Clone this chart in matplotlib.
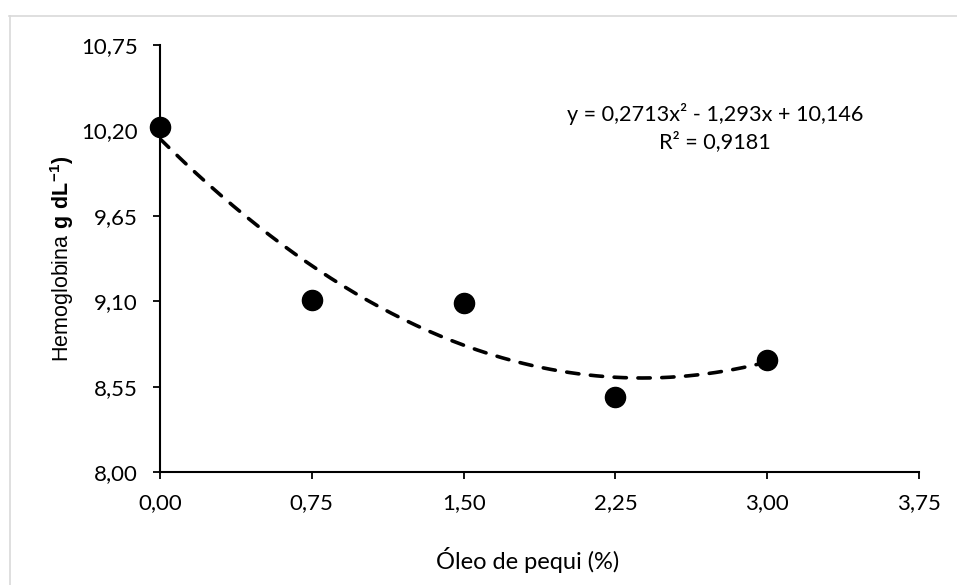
import numpy as np
import matplotlib
matplotlib.use('Agg')
import matplotlib.pyplot as plt
from matplotlib.lines import Line2D

plt.rcParams['font.family'] = ['Lato', 'DejaVu Sans']
plt.rcParams['mathtext.fontset'] = 'custom'
plt.rcParams['mathtext.rm'] = 'Liberation Sans'
plt.rcParams['mathtext.bf'] = 'Liberation Sans:bold'

# Data
oleo = [0.00, 0.75, 1.50, 2.25, 3.00]
hemoglobina = [10.22, 9.11, 9.09, 8.48, 8.72]

# Quadratic trendline coefficients (from the chart label)
coef = [0.2713, -1.293, 10.146]

x_ticks = [0.00, 0.75, 1.50, 2.25, 3.00, 3.75]
y_ticks = [8.00, 8.55, 9.10, 9.65, 10.20, 10.75]

fig = plt.figure(figsize=(9.57, 5.85), dpi=100)
ax = fig.add_axes([160 / 957, 1 - 472 / 585, (919 - 160) / 957, (472 - 45) / 585])

# trendline
xs = np.linspace(0, 3, 200)
ax.plot(xs, np.polyval(coef, xs), color='black', lw=2.6, dashes=(3.4, 3.2),
        dash_capstyle='round', zorder=2)
ax.plot(oleo, hemoglobina, 'o', color='black', ms=14.5, zorder=3, clip_on=False)

ax.set_xlim(0, 3.75)
ax.set_ylim(8.0, 10.75)
ax.set_xticks(x_ticks)
ax.set_yticks(y_ticks)
ax.set_xticklabels([f'{v:.2f}'.replace('.', ',') for v in x_ticks])
ax.set_yticklabels([f'{v:.2f}'.replace('.', ',') for v in y_ticks])
ax.tick_params(labelsize=16, length=5, width=1.3, direction='out')
ax.tick_params(axis='y', pad=11)
ax.tick_params(axis='x', pad=10)

for s in ['top', 'right']:
    ax.spines[s].set_visible(False)
for s in ['left', 'bottom']:
    ax.spines[s].set_linewidth(1.5)

ax.set_xlabel('Óleo de pequi (%)', fontsize=17)
ax.xaxis.set_label_coords((528 - 160) / 759, (472 - 547) / 427)
ax.set_ylabel(r'$\mathrm{Hemoglobina}\ \mathbf{g\ dL^{-1})}$', fontsize=15.5)
ax.yaxis.set_label_coords((76 - 160) / 759, 0.5)

ax.text(715 / 957, 1 - 114 / 585, 'y = 0,2713x² - 1,293x + 10,146',
        transform=fig.transFigure, ha='center', va='center', fontsize=15.6)
ax.text(715 / 957, 1 - 142 / 585, 'R² = 0,9181',
        transform=fig.transFigure, ha='center', va='center', fontsize=15.6)

# light gray chart area border
fig.add_artist(Line2D([9 / 957, 1], [1 - 15.5 / 585] * 2, color='#d9d9d9', lw=1.2))
fig.add_artist(Line2D([9.5 / 957] * 2, [0, 1 - 15.5 / 585], color='#d9d9d9', lw=1.2))

fig.savefig('out.png', dpi=100)
